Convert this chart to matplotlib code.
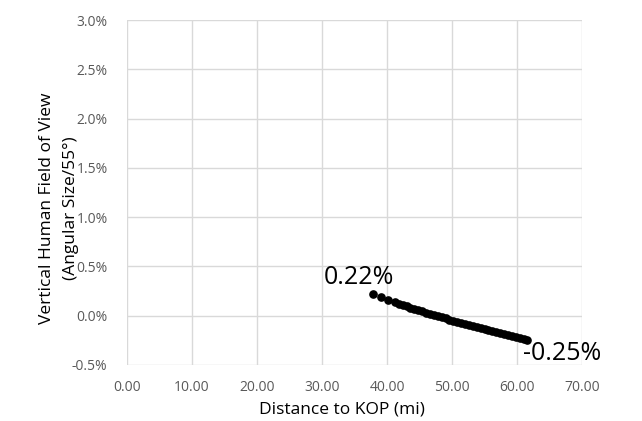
import matplotlib
matplotlib.use("Agg")
import matplotlib.pyplot as plt
from matplotlib.ticker import FuncFormatter, MultipleLocator

plt.rcParams['font.family'] = ['Open Sans', 'DejaVu Sans']

# Distance to KOP (mi)
distance = [37.8, 39.0, 40.2, 41.2, 41.8, 42.4, 43.0, 43.6, 44.2, 44.8,
            45.4, 46.0, 46.6, 47.2, 47.8, 48.4, 49.0, 49.6, 50.2, 50.8,
            51.4, 52.0, 52.6, 53.2, 53.8, 54.4, 55.0, 55.6, 56.2, 56.8,
            57.4, 58.0, 58.6, 59.2, 59.8, 60.4, 61.0, 61.5]
# Vertical human field of view (percent)
fov_pct = [0.220, 0.190, 0.161, 0.137, 0.123, 0.109, 0.096, 0.083, 0.070, 0.057,
           0.044, 0.032, 0.019, 0.007, -0.005, -0.017, -0.028, -0.040, -0.051, -0.062,
           -0.074, -0.085, -0.096, -0.107, -0.117, -0.128, -0.138, -0.149, -0.159, -0.169,
           -0.180, -0.190, -0.200, -0.209, -0.219, -0.229, -0.239, -0.250]
first_label = "0.22%"
last_label = "-0.25%"

fig = plt.figure(figsize=(6.42, 4.21), dpi=100)
ax = fig.add_axes([127/642, 1-365/421, (582-127)/642, (365-20)/421])

ax.plot(distance, fov_pct, linestyle='none', marker='o', markersize=5.2,
        color='black', zorder=3)

ax.set_xlim(0, 70)
ax.set_ylim(-0.5, 3.0)
ax.xaxis.set_major_locator(MultipleLocator(10))
ax.yaxis.set_major_locator(MultipleLocator(0.5))
ax.xaxis.set_major_formatter(FuncFormatter(lambda v, p: f"{v:.2f}"))
ax.yaxis.set_major_formatter(FuncFormatter(lambda v, p: f"{v:.1f}%"))
ax.grid(True, color='#d9d9d9', linewidth=1.0)
ax.set_axisbelow(True)
for s in ax.spines.values():
    s.set_visible(False)
ax.tick_params(length=0, labelsize=10, colors='#595959')
ax.tick_params(axis='x', pad=11)
ax.tick_params(axis='y', pad=14)

ax.annotate(first_label, (distance[0], fov_pct[0]), xytext=(-14, 4),
            textcoords='offset pixels', ha='center', va='bottom', fontsize=18,
            color='black')
ax.annotate(last_label, (distance[-1], fov_pct[-1]), xytext=(35, -13),
            textcoords='offset pixels', ha='center', va='center', fontsize=18,
            color='black')

fig.text(342/642, 1-410/421, "Distance to KOP (mi)", ha='center', va='center',
         fontsize=12.5, color='black')
fig.text(59/642, 1-208/421, "Vertical Human Field of View\n(Angular Size/55°)",
         ha='center', va='center', rotation=90, fontsize=12.5, color='black',
         multialignment='center', linespacing=1.6)

fig.savefig("out.png", dpi=100)
